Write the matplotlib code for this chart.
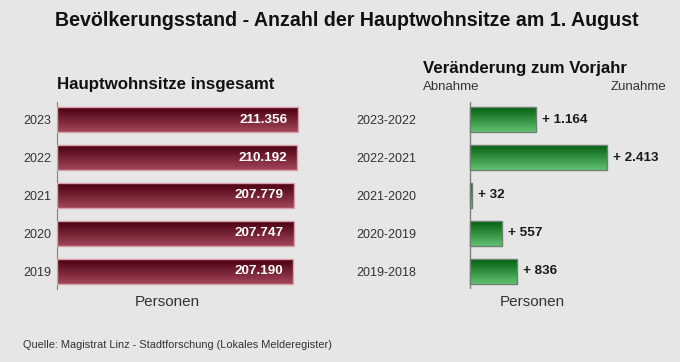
import numpy as np
import matplotlib
matplotlib.use("Agg")
import matplotlib.pyplot as plt
from matplotlib.colors import LinearSegmentedColormap
from matplotlib.patches import Rectangle

# Daten
jahre = ["2019", "2020", "2021", "2022", "2023"]
einwohner = [207190, 207747, 207779, 210192, 211356]
einwohner_labels = ["207.190", "207.747", "207.779", "210.192", "211.356"]

perioden = ["2019-2018", "2020-2019", "2021-2020", "2022-2021", "2023-2022"]
veraenderung = [836, 557, 32, 2413, 1164]
veraenderung_labels = ["+ 836", "+ 557", "+ 32", "+ 2.413", "+ 1.164"]

BG = "#e6e6e6"
plt.rcParams["font.family"] = ["Liberation Sans", "DejaVu Sans"]

rot = LinearSegmentedColormap.from_list("rot", ["#a24658", "#4a0010"])
gruen = LinearSegmentedColormap.from_list("gruen", ["#62c272", "#02600f"])


def gradient_bars(ax, werte, cmap, edge, hoehe=0.65):
    grad = np.linspace(0, 1, 64).reshape(-1, 1)
    for i, v in enumerate(werte):
        rect = Rectangle((0, i - hoehe / 2), v, hoehe, facecolor="none",
                         edgecolor=edge, linewidth=1.0, zorder=3)
        ax.add_patch(rect)
        im = ax.imshow(grad, cmap=cmap, aspect="auto", origin="lower",
                       extent=(0, v, i - hoehe / 2, i + hoehe / 2), zorder=2)
        im.set_clip_path(rect)


fig = plt.figure(figsize=(6.8, 3.62), dpi=100, facecolor=BG)
W, H = 680, 362


def px_axes(x0, y0, x1, y1):
    return fig.add_axes([x0 / W, 1 - y1 / H, (x1 - x0) / W, (y1 - y0) / H])


# Linkes Diagramm: Hauptwohnsitze
ax1 = px_axes(57, 102, 300, 289)
ax1.set_facecolor(BG)
gradient_bars(ax1, einwohner, rot, "#d8a0a8")
px1 = 211356 / 241
ax1.set_xlim(0, 243 * px1)
ax1.set_ylim(-0.47, 4.47)
for s in ["top", "right", "bottom"]:
    ax1.spines[s].set_visible(False)
ax1.spines["left"].set_color("#808080")
ax1.set_xticks([])
ax1.set_yticks(range(len(jahre)))
ax1.set_yticklabels(jahre, fontsize=9, color="#333333")
ax1.tick_params(axis="y", length=0, pad=4)
for i, (v, lab) in enumerate(zip(einwohner, einwohner_labels)):
    ax1.text(v - 10 * px1, i, lab, ha="right", va="center", color="white",
             fontsize=9.7, fontweight="bold", zorder=4)

# Rechtes Diagramm: Veraenderung
skala = 136.7 / 2413
ax2 = px_axes(422, 102, 666, 289)
ax2.set_facecolor(BG)
gradient_bars(ax2, veraenderung, gruen, "#708070")
ax2.set_xlim(-48 / skala, 196 / skala)
ax2.set_ylim(-0.47, 4.47)
for s in ["top", "right", "bottom", "left"]:
    ax2.spines[s].set_visible(False)
ax2.axvline(0, color="#808080", linewidth=1.0, zorder=1)
ax2.set_xticks([])
ax2.set_yticks(range(len(perioden)))
ax2.set_yticklabels(perioden, fontsize=9, color="#333333")
ax2.tick_params(axis="y", length=0, pad=4)
for i, (v, lab) in enumerate(zip(veraenderung, veraenderung_labels)):
    ax2.text(v + 6 / skala, i, lab, ha="left", va="center", color="#1a1a1a",
             fontsize=9.7, fontweight="bold", zorder=4)

# Texte
fig.text(347 / W, 1 - 21 / H, "Bevölkerungsstand - Anzahl der Hauptwohnsitze am 1. August",
         ha="center", va="center", fontsize=14.1, fontweight="bold", color="#111111")
fig.text(57 / W, 1 - 85 / H, "Hauptwohnsitze insgesamt", ha="left", va="center",
         fontsize=12.2, fontweight="bold", color="#111111")
fig.text(423 / W, 1 - 68 / H, "Veränderung zum Vorjahr", ha="left", va="center",
         fontsize=12.2, fontweight="bold", color="#111111")
fig.text(423 / W, 1 - 87 / H, "Abnahme", ha="left", va="center",
         fontsize=9.5, color="#333333")
fig.text(666 / W, 1 - 87 / H, "Zunahme", ha="right", va="center",
         fontsize=9.5, color="#333333")
fig.text(167 / W, 1 - 302 / H, "Personen", ha="center", va="center",
         fontsize=11, color="#333333")
fig.text(532 / W, 1 - 302 / H, "Personen", ha="center", va="center",
         fontsize=11, color="#333333")
fig.text(23 / W, 1 - 345 / H, "Quelle: Magistrat Linz - Stadtforschung (Lokales Melderegister)",
         ha="left", va="center", fontsize=7.9, color="#333333")

fig.savefig("out.png", dpi=100, facecolor=BG)
